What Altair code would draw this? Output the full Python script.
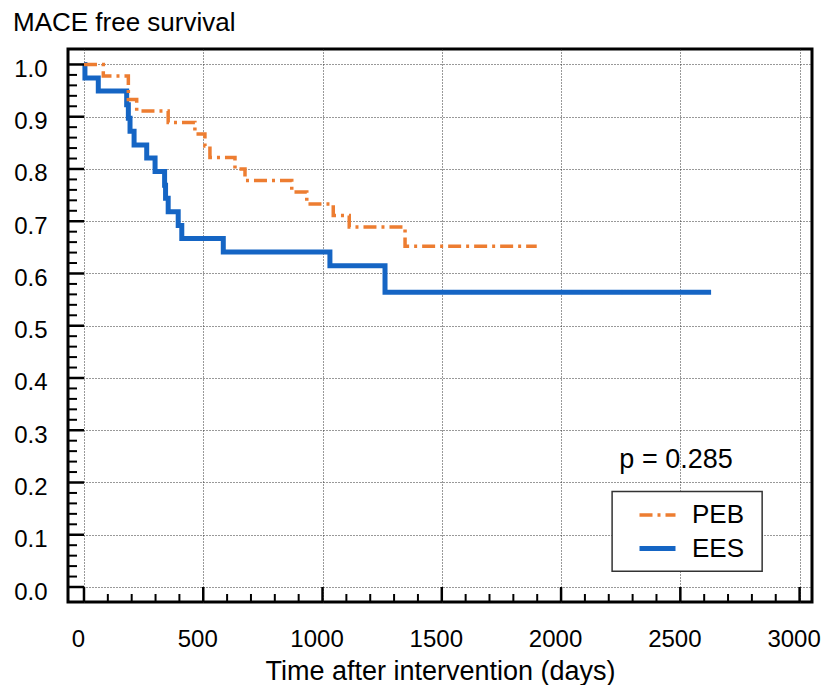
import altair as alt
import pandas as pd

# ---- data ----
series_names = ["PEB", "EES"]
peb_time = [0, 81, 186, 221, 353, 465, 507, 528, 633, 675, 871, 934, 1045, 1112, 1346, 1898]
peb_surv = [1.0, 0.978, 0.933, 0.911, 0.889, 0.867, 0.844, 0.822, 0.800, 0.778, 0.756, 0.733,
            0.711, 0.689, 0.652, 0.652]
ees_time = [0, 4, 60, 179, 186, 193, 210, 263, 298, 338, 342, 353, 395, 410, 584, 1031, 1262, 2629]
ees_surv = [1.0, 0.974, 0.949, 0.923, 0.897, 0.872, 0.846, 0.821, 0.795, 0.769, 0.744, 0.718,
            0.692, 0.667, 0.641, 0.615, 0.564, 0.564]
x_ticks = [0, 500, 1000, 1500, 2000, 2500, 3000]
y_ticks = [0.0, 0.1, 0.2, 0.3, 0.4, 0.5, 0.6, 0.7, 0.8, 0.9, 1.0]
x_minor = [v for v in range(0, 3001, 100) if v % 500 != 0]
y_minor = [round(i * 0.02, 2) for i in range(51) if i % 5 != 0]
p_label = ["p = 0.285"]
p_time = [2482]
p_surv = [0.228]
chart_title = ["MACE free survival"]
# legend frame extent (data units)
box_time = [2214]
box_time2 = [2843]
box_surv = [0.030]
box_surv2 = [0.183]

FONT = "Liberation Sans, Arial, sans-serif"
ORANGE = "#ED7D31"
BLUE = "#1565C4"
GRID = "#333333"

xs = alt.Scale(domain=[-67, 3052], nice=False, zero=False)
ys = alt.Scale(domain=[-0.0287, 1.0296], nice=False, zero=False)

df = pd.concat([
    pd.DataFrame({"time": ees_time, "surv": ees_surv, "series": "EES"}),
    pd.DataFrame({"time": peb_time, "surv": peb_surv, "series": "PEB"}),
], ignore_index=True)

legend = alt.Legend(
    title=None, orient="none", legendX=544, legendY=443,
    symbolType="stroke", symbolSize=1296, symbolOffset=22, labelOffset=14,
    labelFont=FONT, labelFontSize=26, labelColor="black",
    padding=3, rowPadding=0,
)

x_axis = alt.Axis(
    values=x_ticks, format="d", title="Time after intervention (days)",
    grid=True, gridDash=[1, 2], gridColor=GRID, gridWidth=1, gridOpacity=1,
    domain=False, ticks=False, tickSize=0,
    labelFont=FONT, labelFontSize=24, labelColor="black", labelPadding=44,
    labelBaseline="alphabetic", labelOffset=-6, labelFlush=False, labelOverlap=False,
    titleFont=FONT, titleFontSize=27, titleFontWeight="normal", titleColor="black",
    titleBaseline="alphabetic", titleY=77,
)
y_axis = alt.Axis(
    values=y_ticks, format=".1f", title=None,
    grid=True, gridDash=[1, 2], gridColor=GRID, gridWidth=1, gridOpacity=1,
    domain=False, ticks=False, tickSize=0,
    labelFont=FONT, labelFontSize=24, labelColor="black", labelPadding=21,
    labelBaseline="alphabetic", labelOffset=12, labelFlush=False, labelOverlap=False,
)

lines = alt.Chart(df).mark_line(interpolate="step-after", strokeCap="butt").encode(
    x=alt.X("time:Q", scale=xs, axis=x_axis),
    y=alt.Y("surv:Q", scale=ys, axis=y_axis),
    color=alt.Color("series:N", scale=alt.Scale(domain=series_names, range=[ORANGE, BLUE]), legend=legend),
    strokeDash=alt.StrokeDash("series:N", scale=alt.Scale(domain=series_names, range=[[13, 5, 3, 5], [1, 0]]), legend=legend),
    strokeWidth=alt.StrokeWidth("series:N", scale=alt.Scale(domain=series_names, range=[3.5, 5.0]), legend=legend),
)

ytick_major = alt.Chart(pd.DataFrame({"surv": y_ticks})).mark_rule(color="black", strokeWidth=2.5).encode(
    y=alt.Y("surv:Q", scale=ys), x=alt.value(0), x2=alt.value(16))
ytick_minor = alt.Chart(pd.DataFrame({"surv": y_minor})).mark_rule(color="black", strokeWidth=2).encode(
    y=alt.Y("surv:Q", scale=ys), x=alt.value(0), x2=alt.value(9))
xtick_major = alt.Chart(pd.DataFrame({"time": x_ticks})).mark_rule(color="black", strokeWidth=2.5).encode(
    x=alt.X("time:Q", scale=xs), y=alt.value(553), y2=alt.value(538))
xtick_minor = alt.Chart(pd.DataFrame({"time": x_minor})).mark_rule(color="black", strokeWidth=2).encode(
    x=alt.X("time:Q", scale=xs), y=alt.value(553), y2=alt.value(545))

legend_box = alt.Chart(pd.DataFrame({"time": box_time, "time2": box_time2,
                                     "surv": box_surv, "surv2": box_surv2})).mark_rect(
    fill="white", stroke="#333333", strokeWidth=1.5).encode(
    x=alt.X("time:Q", scale=xs), x2="time2:Q", y=alt.Y("surv:Q", scale=ys), y2="surv2:Q")

ptext = alt.Chart(pd.DataFrame({"time": p_time, "surv": p_surv, "label": p_label})).mark_text(
    font=FONT, fontSize=27, align="center", baseline="alphabetic", color="black").encode(
    x=alt.X("time:Q", scale=xs), y=alt.Y("surv:Q", scale=ys), text="label:N")

title_text = alt.Chart(pd.DataFrame({"label": chart_title})).mark_text(
    font=FONT, fontSize=26, align="left", baseline="alphabetic", color="black").encode(
    x=alt.value(-55), y=alt.value(-18), text="label:N")

chart = alt.layer(lines, ytick_major, ytick_minor, xtick_major, xtick_minor,
                  legend_box, ptext, title_text).properties(
    width=744, height=553,
    autosize=alt.AutoSizeParams(type="none"),
    padding={"left": 60, "top": 41, "right": 9, "bottom": 83},
).configure_view(stroke="black", strokeWidth=3)

chart.save("out.html", embed_options={"renderer": "svg", "actions": False})
